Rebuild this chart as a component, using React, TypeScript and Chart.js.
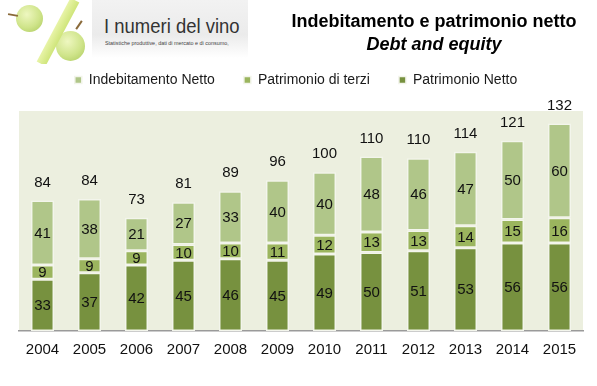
import React, { useEffect, useRef } from "react";
import { Chart, registerables } from "chart.js";

Chart.register(...registerables);

const years = ["2004", "2005", "2006", "2007", "2008", "2009", "2010", "2011", "2012", "2013", "2014", "2015"];
const patrimonioNetto = [33, 37, 42, 45, 46, 45, 49, 50, 51, 53, 56, 56];
const patrimonioTerzi = [9, 9, 9, 10, 10, 11, 12, 13, 13, 14, 15, 16];
const indebitamentoNetto = [41, 38, 21, 27, 33, 40, 40, 48, 46, 47, 50, 60];
const totals = [84, 84, 73, 81, 89, 96, 100, 110, 110, 114, 121, 132];

const FONT = "'Liberation Sans', Arial, sans-serif";

const legendTweak = {
  id: "legendTweak",
  beforeInit(chart: any) {
    const legend = chart.legend;
    if (!legend) return;
    const origFit = legend.fit;
    legend.fit = function () {
      origFit.call(this);
      this.height += 14;
    };
    const origDraw = legend.draw;
    legend.draw = function () {
      const ctx = this.ctx;
      ctx.save();
      ctx.translate(-5, 0);
      origDraw.call(this);
      ctx.restore();
    };
  },
};

const bgPlugin = {
  id: "plotBg",
  beforeDraw(chart: any) {
    const { ctx, chartArea } = chart;
    ctx.save();
    ctx.fillStyle = "#ECEFDF";
    ctx.fillRect(chartArea.left, chartArea.top, chartArea.right - chartArea.left, chartArea.bottom - chartArea.top);
    ctx.restore();
  },
};

const labelPlugin = {
  id: "valueLabels",
  afterDatasetsDraw(chart: any) {
    const { ctx } = chart;
    ctx.save();
    ctx.font = `15px ${FONT}`;
    ctx.fillStyle = "#111";
    ctx.textAlign = "center";
    ctx.textBaseline = "middle";
    chart.data.datasets.forEach((ds: any, di: number) => {
      const meta = chart.getDatasetMeta(di);
      meta.data.forEach((el: any, i: number) => {
        const v = ds.data[i];
        ctx.fillText(String(v), el.x, (el.y + el.base) / 2 + 1);
      });
    });
    const last = chart.getDatasetMeta(chart.data.datasets.length - 1);
    last.data.forEach((el: any, i: number) => {
      ctx.fillText(String(totals[i]), el.x, el.y - 18);
    });
    ctx.restore();
  },
};

function ChartView() {
  const ref = useRef<HTMLCanvasElement | null>(null);
  useEffect(() => {
    if (!ref.current) return;
    const chart = new Chart(ref.current, {
      type: "bar",
      data: {
        labels: years,
        datasets: [
          { label: "Patrimonio Netto", data: patrimonioNetto, backgroundColor: "#77913F" },
          { label: "Patrimonio di terzi", data: patrimonioTerzi, backgroundColor: "#9BB55E" },
          { label: "Indebitamento Netto", data: indebitamentoNetto, backgroundColor: "#B0C689" },
        ].map((d) => ({
          ...d,
          borderColor: "#F3F5EC",
          borderWidth: 1.5,
          borderSkipped: false,
          barPercentage: 0.49,
          categoryPercentage: 1,
        })),
      },
      options: {
        animation: false,
        responsive: false,
        maintainAspectRatio: false,
        layout: { padding: { top: 44, left: 19, right: 14, bottom: 17 } },
        plugins: {
          legend: {
            display: true,
            position: "top",
            reverse: true,
            labels: {
              boxWidth: 7,
              boxHeight: 7,
              padding: 29,
              color: "#1a1a1a",
              font: { family: FONT, size: 14 },
            },
          },
          tooltip: { enabled: false },
          title: { display: false },
        },
        scales: {
          x: {
            stacked: true,
            grid: { display: false, drawTicks: false },
            border: { display: true, color: "#9a9a9a", width: 1.5 },
            ticks: { color: "#111", font: { family: FONT, size: 15 }, padding: 10 },
          },
          y: {
            stacked: true,
            display: false,
            min: 0,
            max: 140,
          },
        },
      },
      plugins: [legendTweak, bgPlugin, labelPlugin],
    });
    return () => chart.destroy();
  }, []);
  return <canvas ref={ref} width={597} height={386} style={{ position: "absolute", left: 0, top: 0 }} />;
}

function Logo() {
  return (
    <div style={{ position: "absolute", left: 0, top: 0, width: 248, height: 64, overflow: "hidden" }}>
      <div
        style={{
          position: "absolute",
          left: 92,
          top: 0,
          width: 156,
          height: 58,
          background: "linear-gradient(to bottom, #f2f2f2 0%, #ebebeb 60%, #ffffff 100%)",
        }}
      />
      <div
        style={{
          position: "absolute",
          left: 16,
          top: 5,
          width: 27,
          height: 27,
          borderRadius: "50%",
          background: "radial-gradient(circle at 40% 35%, #eef7c0 0%, #cfe48a 55%, #a9c85a 100%)",
        }}
      />
      <div
        style={{
          position: "absolute",
          left: 56,
          top: 31,
          width: 29,
          height: 30,
          borderRadius: "50%",
          background: "radial-gradient(circle at 40% 35%, #eef7c0 0%, #cfe48a 55%, #a9c85a 100%)",
        }}
      />
      <div
        style={{
          position: "absolute",
          left: 53,
          top: -4,
          width: 10,
          height: 72,
          background: "linear-gradient(to right, #e8f4a8, #cfe57a)",
          transform: "rotate(28deg)",
          transformOrigin: "center",
        }}
      />
      <div style={{ position: "absolute", left: 8, top: 14, width: 10, height: 2, background: "#8a6a3a", transform: "rotate(10deg)" }} />
      <div style={{ position: "absolute", left: 74, top: 24, width: 10, height: 2, background: "#8a6a3a", transform: "rotate(-55deg)" }} />
      <div
        style={{
          position: "absolute",
          left: 104,
          top: 14,
          fontFamily: FONT,
          fontSize: 21,
          color: "#333",
          whiteSpace: "nowrap",
          transform: "scaleX(0.88)",
          transformOrigin: "left top",
          lineHeight: "24px",
        }}
      >
        I numeri del vino
      </div>
      <div
        style={{
          position: "absolute",
          left: 105,
          top: 39,
          fontFamily: FONT,
          fontSize: 6,
          color: "#444",
          whiteSpace: "nowrap",
          transform: "scaleX(0.9)",
          transformOrigin: "left top",
          lineHeight: "8px",
        }}
      >
        Statistiche produttive, dati di mercato e di consumo,
      </div>
    </div>
  );
}

export default function App() {
  return (
    <div style={{ position: "fixed", left: 0, top: 0, width: 597, height: 386, background: "#fff", overflow: "hidden" }}>
      <ChartView />
      <Logo />
      <div
        style={{
          position: "absolute",
          left: 284,
          width: 300,
          top: 10,
          textAlign: "center",
          fontFamily: FONT,
          fontWeight: "bold",
          fontSize: 18,
          lineHeight: "23px",
          color: "#000",
        }}
      >
        <div>Indebitamento e patrimonio netto</div>
        <div style={{ fontStyle: "italic" }}>Debt and equity</div>
      </div>
    </div>
  );
}
